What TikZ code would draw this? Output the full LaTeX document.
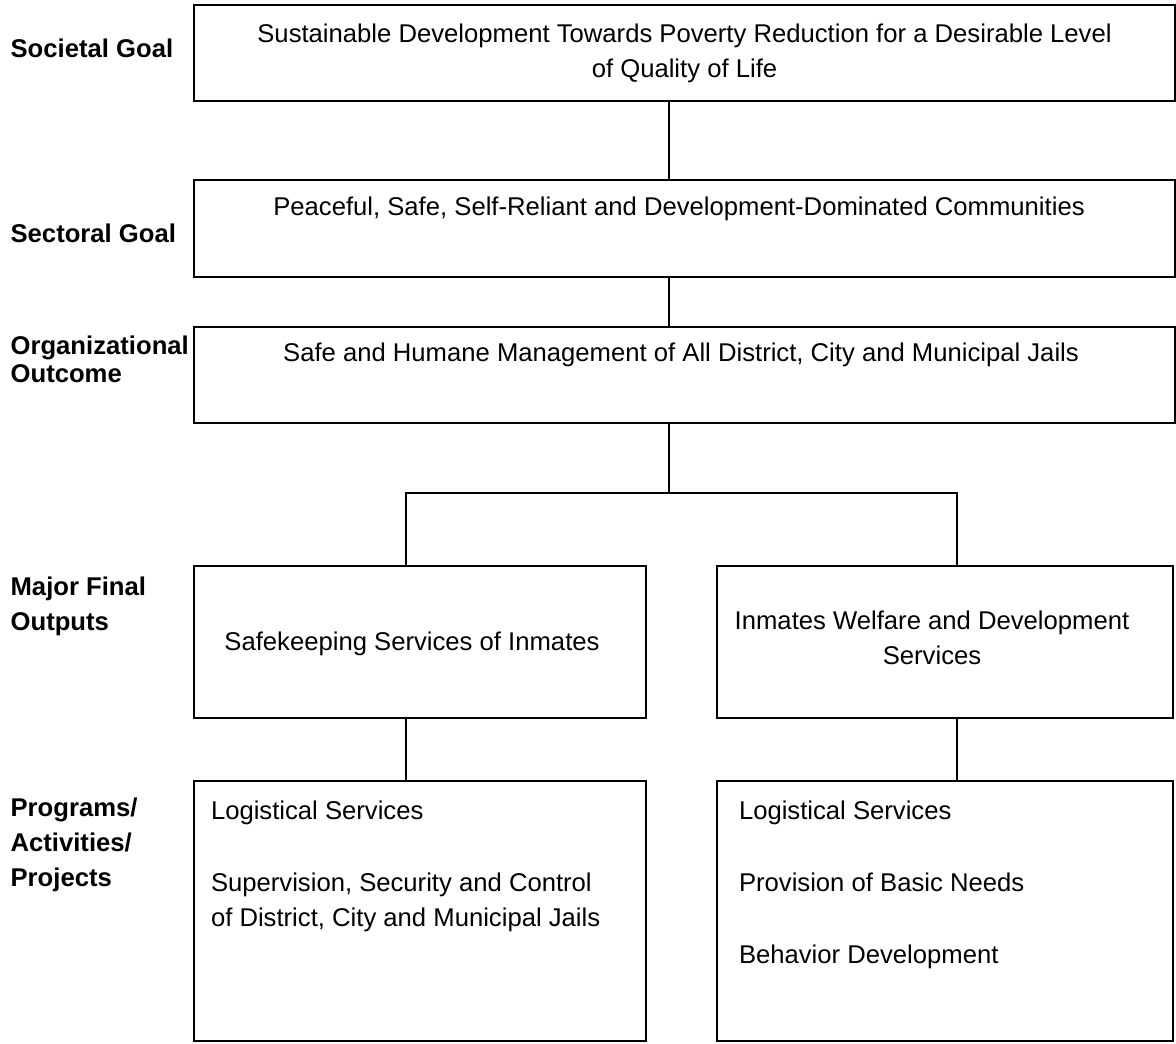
\documentclass[tikz,border=0pt]{standalone}
\usepackage{fontspec}
\setmainfont{Liberation Sans}
\usetikzlibrary{positioning}

\tikzset{
  box/.style={draw, rectangle, inner sep=0pt},
  boxtext/.style={inner sep=0pt, align=center},
  listtext/.style={inner sep=0pt, align=left, anchor=north west},
  level/.style={inner sep=0pt, align=left, anchor=north west, font=\fontsize{14.6}{19.9}\selectfont\bfseries}
}

\begin{document}
\begin{tikzpicture}[line width=0.7pt, font=\fontsize{14.6}{19.9}\selectfont]
        \useasboundingbox (0,0) rectangle (23.52,-20.88);

        % Boxes
        \node (goal) [box, minimum width=19.62cm, minimum height=1.92cm] at (13.69,-1.06) {};
        \node (sector) [box, minimum width=19.62cm, minimum height=1.94cm] at (13.69,-4.57) {};
        \node (org) [box, minimum width=19.62cm, minimum height=1.92cm] at (13.69,-7.5) {};
        \node (mfoL) [box, minimum width=9.04cm, minimum height=3.04cm] at (8.4,-12.84) {};
        \node (mfoR) [box, minimum width=9.12cm, minimum height=3.04cm] at (18.9,-12.84) {};
        \node (papL) [box, minimum width=9.04cm, minimum height=5.2cm] at (8.4,-18.22) {};
        \node (papR) [box, minimum width=9.12cm, minimum height=5.2cm] at (18.9,-18.22) {};

        % Box texts
        \node (goaltext) [boxtext, below=0.38cm of goal.north] {Sustainable Development Towards Poverty Reduction for a Desirable Level\\of Quality of Life};
        \node (sectortext) [boxtext, below=0.34cm of sector.north, xshift=-0.11cm] {Peaceful, Safe, Self-Reliant and Development-Dominated Communities};
        \node (orgtext) [boxtext, below=0.32cm of org.north, xshift=-0.07cm] {Safe and Humane Management of All District, City and Municipal Jails};
        \node (mfoLtext) [boxtext, below=1.32cm of mfoL.north, xshift=-0.16cm] {Safekeeping Services of Inmates};
        \node (mfoRtext) [boxtext, below=0.9cm of mfoR.north, xshift=-0.26cm] {Inmates Welfare and Development\\Services};
        \node (papLtext) [listtext] at ([xshift=0.34cm, yshift=-0.4cm]papL.north west) {Logistical Services\\[21pt]Supervision, Security and Control\\of District, City and Municipal Jails};
        \node (papRtext) [listtext] at ([xshift=0.44cm, yshift=-0.4cm]papR.north west) {Logistical Services\\[21pt]Provision of Basic Needs\\[21pt]Behavior Development};

        % Level labels
        \node (lgoal) [level] at (0.2,-0.76) {Societal Goal};
        \node (lsector) [level] at (0.2,-4.46) {Sectoral Goal};
        \node (lorg) [level, font=\fontsize{14.6}{15.9}\selectfont\bfseries] at (0.2,-6.7) {Organizational\\Outcome};
        \node (lmfo) [level] at (0.2,-11.52) {Major Final\\Outputs};
        \node (lpap) [level] at (0.2,-15.94) {Programs/\\Activities/\\Projects};

        % Edges
        \coordinate (trunk) at (13.38,-9.86);
        \coordinate (lbranch) at (8.12,-9.86);
        \coordinate (rbranch) at (19.14,-9.86);
        \draw (goal.south -| trunk) -- (sector.north -| trunk);
        \draw (sector.south -| trunk) -- (org.north -| trunk);
        \draw (org.south -| trunk) -- (trunk);
        \draw (mfoL.north -| lbranch) -- (lbranch) -- (rbranch) -- (mfoR.north -| rbranch);
        \draw (mfoL.south -| lbranch) -- (papL.north -| lbranch);
        \draw (mfoR.south -| rbranch) -- (papR.north -| rbranch);
    \end{tikzpicture}
\end{document}
